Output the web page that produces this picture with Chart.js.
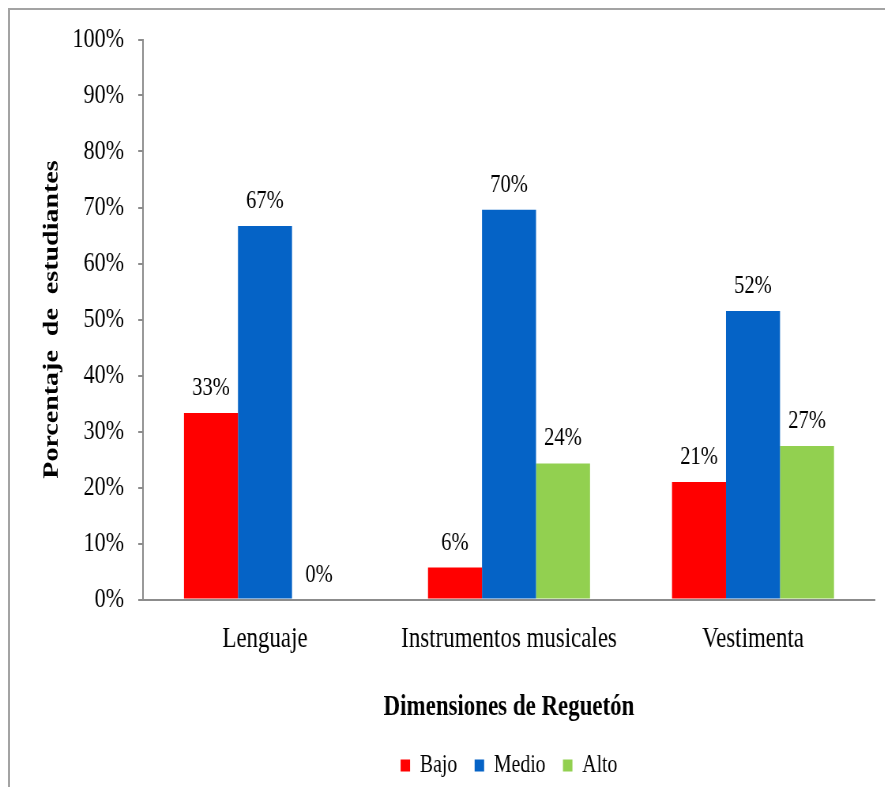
<!DOCTYPE html>
<html><head><meta charset="utf-8">
<script src="https://cdn.jsdelivr.net/npm/chart.js@4"></script>
<style>
html,body{margin:0;padding:0;background:#fff;overflow:hidden;width:885px;height:787px;}
#frame{position:absolute;left:8px;top:8px;width:2000px;height:2000px;border-left:2px solid #a3a3a3;border-top:2px solid #a3a3a3;}
#wrap{position:absolute;left:0;top:0;transform:scaleX(0.79);transform-origin:0 0;}
</style></head><body>
<div id="frame"></div>
<div id="wrap"><canvas id="c" width="1120" height="788"></canvas></div>
<script>
const categories = ['Lenguaje', 'Instrumentos musicales', 'Vestimenta'];
const seriesNames = ['Bajo', 'Medio', 'Alto'];
const bajo = [33.3, 5.7, 21.0];
const medio = [66.7, 69.6, 51.5];
const alto = [0, 24.3, 27.4];
const seriesColors = ['#FF0000', '#0563C6', '#92D050'];
const xTitle = 'Dimensiones de Reguetón';
const yTitle = 'Porcentaje  de  estudiantes';

const FAM = '"Liberation Serif", "Times New Roman", serif';

const valueLabels = {
  id: 'valueLabels',
  afterDatasetsDraw(chart) {
    const ctx = chart.ctx;
    ctx.save();
    ctx.font = '26px ' + FAM;
    ctx.fillStyle = '#000';
    ctx.textAlign = 'center';
    ctx.textBaseline = 'alphabetic';
    chart.data.datasets.forEach((ds, i) => {
      chart.getDatasetMeta(i).data.forEach((el, j) => {
        ctx.fillText(Math.round(ds.data[j]) + '%', el.x, el.y - 18);
      });
    });
    ctx.restore();
  }
};

const seriesData = [bajo, medio, alto];
new Chart(document.getElementById('c'), {
  type: 'bar',
  data: {
    labels: categories,
    datasets: seriesNames.map((n, i) => ({
      label: n,
      data: seriesData[i],
      backgroundColor: seriesColors[i],
      borderWidth: 0,
      categoryPercentage: 0.664,
      barPercentage: 1
    }))
  },
  options: {
    responsive: false,
    animation: false,
    layout: { padding: { left: 0, top: 39.5, right: 12.4, bottom: 0 } },
    plugins: {
      legend: {
        position: 'bottom',
        fullSize: false,
        labels: { boxWidth: 12, boxHeight: 12, padding: 22, color: '#000', font: { family: FAM, size: 25 } }
      },
      tooltip: { enabled: false }
    },
    scales: {
      x: {
        grid: { display: false, drawTicks: false },
        border: { display: true, color: '#8c8c8c', width: 2 },
        ticks: { color: '#000', font: { family: FAM, size: 29 }, padding: 22, maxRotation: 0, autoSkip: false },
        title: { display: true, text: xTitle, color: '#000', font: { family: FAM, size: 29, weight: 'bold', lineHeight: 1 }, padding: { top: 0, bottom: 9 } },
        afterFit(s) { s.height = 131.5; }
      },
      y: {
        min: 0, max: 100,
        ticks: { stepSize: 10, callback: v => v + '%', color: '#000', font: { family: FAM, size: 28 }, padding: 18 },
        grid: { drawOnChartArea: false, drawTicks: true, tickLength: 6, color: '#8c8c8c', lineWidth: 2 },
        border: { color: '#8c8c8c', width: 2 },
        title: { display: true, text: yTitle, color: '#000', font: { family: FAM, size: 28, weight: 'bold', lineHeight: 1 }, padding: { top: 52, bottom: 0 } },
        afterFit(s) { s.width = 181; }
      }
    }
  },
  plugins: [valueLabels]
});
</script>
</body></html>
